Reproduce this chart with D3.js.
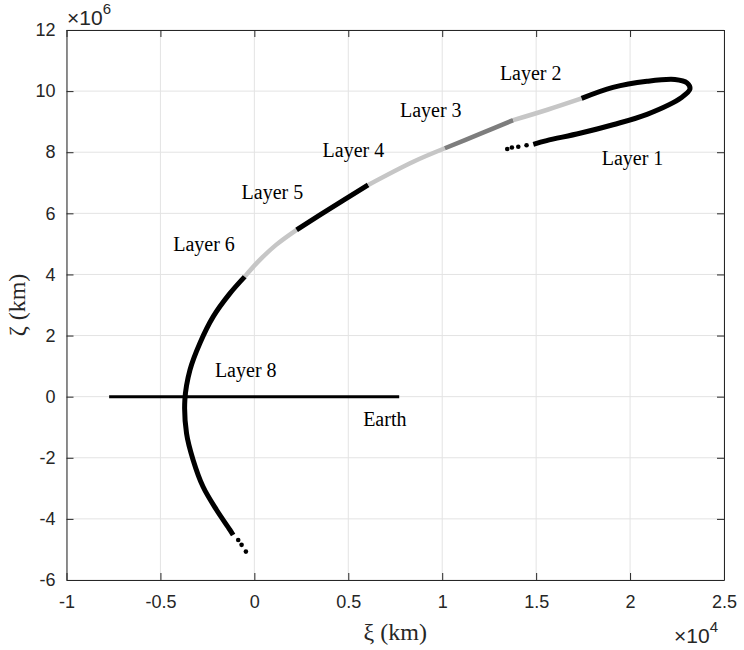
<!DOCTYPE html>
<html>
<head>
<meta charset="utf-8">
<script src="https://cdn.jsdelivr.net/npm/d3@7"></script>
<style>
  body { margin: 0; background: #fff; }
  text { fill: #262626; }
</style>
</head>
<body>
<svg width="744" height="650"></svg>
<script>
var width = 744;
var height = 650;
var plotLeft = 66.5, plotRight = 724, plotTop = 30, plotBottom = 580;

// trajectory, km (xi horizontal, zeta vertical)
var pathXi = [-1130, -1300, -2010, -2730, -3260, -3610, -3700, -3430, -2900, -2190,
  -1300, -510, 200, 1140, 2250, 3750, 6060, 8460, 10140, 12010,
  13780, 15600, 17420, 19090, 20900, 22390, 23030, 23190, 22760, 20900,
  19090, 17330, 15560, 14850];
var pathZeta = [-4.53e6, -4.36e6, -3.71e6, -2.95e6, -2.07e6, -1.20e6, -0.11e6, 0.87e6, 1.75e6, 2.62e6,
  3.38e6, 3.93e6, 4.42e6, 4.96e6, 5.46e6, 6.05e6, 6.93e6, 7.69e6, 8.13e6, 8.60e6,
  9.05e6, 9.39e6, 9.76e6, 10.12e6, 10.32e6, 10.38e6, 10.27e6, 10.07e6, 9.80e6, 9.24e6,
  8.90e6, 8.62e6, 8.38e6, 8.26e6];

// where each shaded run starts (point index) and its shade class
var segStart = [0, 11, 14, 16, 18, 20, 22];
var segShade = ["dark", "light", "dark", "light", "mid", "light", "dark"];

// loose points at the two ends of the trajectory
var tailXi = [-860, -680, -450, 14490, 14050, 13710, 13460];
var tailZeta = [-4.69e6, -4.85e6, -5.07e6, 8.226e6, 8.18e6, 8.155e6, 8.105e6];

var earthXi = [-7730, 7710];
var earthZeta = [0, 0];

var noteText = ["Layer 1", "Layer 2", "Layer 3", "Layer 4", "Layer 5", "Layer 6", "Layer 8", "Earth"];
var noteXi = [18490, 13070, 7750, 3630, -680, -4320, -2100, 5790];
var noteZeta = [7.58e6, 10.36e6, 9.16e6, 7.85e6, 6.46e6, 4.78e6, 0.654e6, -0.959e6];

var xTicks = [-1e4, -0.5e4, 0, 0.5e4, 1e4, 1.5e4, 2e4, 2.5e4];
var yTicks = [-6e6, -4e6, -2e6, 0, 2e6, 4e6, 6e6, 8e6, 10e6, 12e6];

var xScale =
  d3.scaleLinear()
    .domain([-1e4, 2.5e4])
    .range([plotLeft, plotRight]);

var yScale =
  d3.scaleLinear()
    .domain([-6e6, 12e6])
    .range([plotBottom, plotTop]);

var shadeScale =
  d3.scaleOrdinal()
    .domain(["dark", "mid", "light"])
    .range(["#000000", "#7d7d7d", "#c6c6c6"]);

var svg = d3.select("svg");

// Grid
svg.append("g")
  .selectAll("line")
  .data(xTicks)
  .enter()
  .append("line")
    .attr("x1", d => xScale(d)).attr("x2", d => xScale(d))
    .attr("y1", plotTop).attr("y2", plotBottom)
    .attr("stroke", "#e3e3e3");

svg.append("g")
  .selectAll("line")
  .data(yTicks)
  .enter()
  .append("line")
    .attr("x1", plotLeft).attr("x2", plotRight)
    .attr("y1", d => yScale(d)).attr("y2", d => yScale(d))
    .attr("stroke", "#e3e3e3");

// Earth
svg.append("line")
  .attr("x1", xScale(earthXi[0])).attr("x2", xScale(earthXi[1]))
  .attr("y1", yScale(earthZeta[0])).attr("y2", yScale(earthZeta[1]))
  .attr("stroke", "#000")
  .attr("stroke-width", 3);

// Trajectory, one path per shaded run
var line =
  d3.line()
    .x(i => xScale(pathXi[i]))
    .y(i => yScale(pathZeta[i]))
    .curve(d3.curveCatmullRom);

var runs = segStart.map(function(s, k) {
  var e = k + 1 < segStart.length ? segStart[k + 1] : pathXi.length - 1;
  return { idx: d3.range(s, e + 1), shade: segShade[k] };
});

svg.append("g")
  .selectAll("path")
  .data(runs)
  .enter()
  .append("path")
    .attr("d", d => line(d.idx))
    .attr("fill", "none")
    .attr("stroke", d => shadeScale(d.shade))
    .attr("stroke-width", d => d.shade == "dark" ? 5 : 4.5);

svg.append("g")
  .selectAll("circle")
  .data(tailXi)
  .enter()
  .append("circle")
    .attr("cx", d => xScale(d))
    .attr("cy", (d, i) => yScale(tailZeta[i]))
    .attr("r", 2.3)
    .attr("fill", "#000");

// Axes (box, ticks inward)
var xAxis = d3.axisBottom(xScale).tickValues(xTicks)
  .tickSize(-7).tickSizeOuter(0).tickPadding(15)
  .tickFormat(d => String(d / 1e4));
var yAxis = d3.axisLeft(yScale).tickValues(yTicks)
  .tickSize(-7).tickSizeOuter(0).tickPadding(11)
  .tickFormat(d => String(d / 1e6));

svg.append("g")
  .attr("transform", `translate(0, ${plotBottom})`)
  .call(xAxis);
svg.append("g")
  .attr("transform", `translate(${plotLeft}, 0)`)
  .call(yAxis);
svg.append("g")
  .attr("transform", `translate(0, ${plotTop})`)
  .call(d3.axisTop(xScale).tickValues(xTicks).tickSize(-7).tickSizeOuter(0).tickFormat(""));
svg.append("g")
  .attr("transform", `translate(${plotRight}, 0)`)
  .call(d3.axisRight(yScale).tickValues(yTicks).tickSize(-7).tickSizeOuter(0).tickFormat(""));

svg.selectAll(".domain, .tick line")
  .attr("stroke", "#262626")
  .attr("stroke-width", 1);
svg.selectAll(".tick text")
  .attr("fill", "#262626")
  .style("font-family", "'Liberation Sans', Arial, sans-serif")
  .style("font-size", "18px");

// Exponent labels
var e6 = svg.append("text")
  .attr("x", 67).attr("y", 25)
  .style("font-family", "'Liberation Sans', Arial, sans-serif")
  .style("font-size", "21px");
e6.append("tspan").text("\u00d710");
e6.append("tspan").attr("dy", -11).style("font-size", "15px").text("6");

var e4 = svg.append("text")
  .attr("x", 674).attr("y", 643)
  .style("font-family", "'Liberation Sans', Arial, sans-serif")
  .style("font-size", "21px");
e4.append("tspan").text("\u00d710");
e4.append("tspan").attr("dy", -11).style("font-size", "15px").text("4");

// Axis labels
svg.append("text")
  .attr("x", (plotLeft + plotRight) / 2)
  .attr("y", 640)
  .style("text-anchor", "middle")
  .style("font-family", "'Liberation Serif', 'Times New Roman', serif")
  .style("font-size", "24px")
  .text("\u03be (km)");

svg.append("text")
  .attr("transform", "rotate(-90)")
  .attr("x", -(plotTop + plotBottom) / 2)
  .attr("y", 25)
  .style("text-anchor", "middle")
  .style("font-family", "'Liberation Serif', 'Times New Roman', serif")
  .style("font-size", "24px")
  .text("\u03b6 (km)");

// Annotations
svg.append("g")
  .selectAll("text")
  .data(noteText)
  .enter()
  .append("text")
    .attr("x", (d, i) => xScale(noteXi[i]))
    .attr("y", (d, i) => yScale(noteZeta[i]))
    .style("font-family", "'Liberation Serif', 'Times New Roman', serif")
    .style("font-size", "20px")
    .style("fill", "#000")
    .text(d => d);
</script>
</body>
</html>
